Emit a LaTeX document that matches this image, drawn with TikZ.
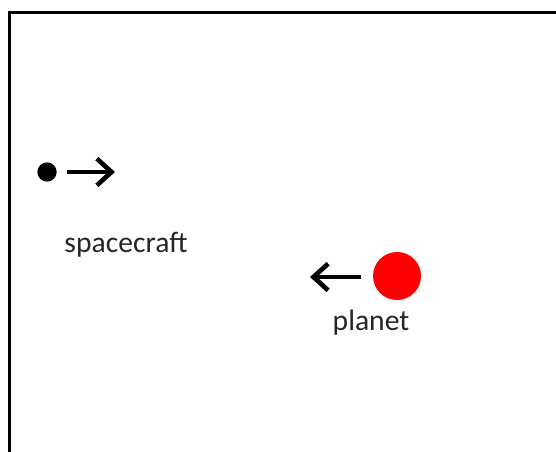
\documentclass[tikz,border=0pt]{standalone}
\usepackage{fontspec}
\setmainfont{Carlito}
\usetikzlibrary{arrows.meta}

\begin{document}
\begin{tikzpicture}[x=0.75pt,y=-0.75pt,
  vec/.style={line width=3.5pt,-{Straight Barb[length=11pt,width=20pt,line width=3.5pt]}},
  label/.style={font=\fontsize{22.2}{26}\selectfont,text=black!85}]
\useasboundingbox (0,0) rectangle (556,452);
\clip (0,0) rectangle (556,452);
\draw[line width=2.25pt] (9,13) rectangle (600,500);

\node[circle,fill=black,inner sep=0pt,minimum size=14.5pt] (craft) at (47,172) {};
\node[circle,fill=red,inner sep=0pt,minimum size=36pt] (planet) at (397,276) {};

\coordinate (crafttail) at (67,172);
\coordinate (crafthead) at (115,172);
\coordinate (planettail) at (361,277);
\coordinate (planethead) at (310,277);
\draw[vec] (crafttail) -- (crafthead);
\draw[vec] (planettail) -- (planethead);

\node[label] (craftname) at (126,245) {spacecraft};
\node[label] (planetname) at (371,323) {planet};
\end{tikzpicture}
\end{document}
